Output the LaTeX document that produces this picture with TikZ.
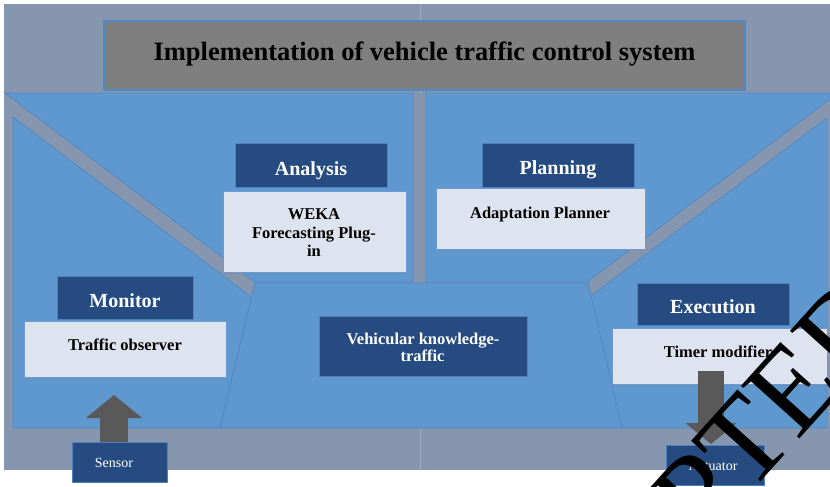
\documentclass[tikz,border=0pt]{standalone}
\usepackage{fontspec}
\setmainfont{Liberation Serif}
\usetikzlibrary{arrows.meta,shadows}

\definecolor{framegray}{HTML}{8796AF}
\definecolor{panelblue}{HTML}{5F98CE}
\definecolor{paneledge}{HTML}{4F88C6}
\definecolor{navy}{HTML}{264B80}
\definecolor{navyedge}{HTML}{4F81BD}
\definecolor{paleblue}{HTML}{DDE4EF}
\definecolor{paleedge}{HTML}{6E9BD4}
\definecolor{titlegray}{HTML}{7F7F7F}
\definecolor{arrowgray}{HTML}{595959}

\begin{document}
\begin{tikzpicture}[x=1pt,y=-1pt,
  panel/.style={fill=panelblue,draw=paneledge,line width=0.8pt},
  navybox/.style={fill=navy,draw=navyedge,line width=1pt,inner sep=0pt},
  palebox/.style={fill=paleblue,draw=paleedge,line width=1pt,inner sep=0pt,
    drop shadow={shadow xshift=0.5pt,shadow yshift=-2pt,opacity=0.25}},
  titlebox/.style={fill=titlegray,draw=paneledge,line width=1.2pt,inner sep=0pt},
  headtext/.style={anchor=base,inner sep=0pt,text=white,font=\fontsize{20}{24}\selectfont\bfseries},
  bodytext/.style={anchor=base,inner sep=0pt,text=black,font=\fontsize{16.5}{19}\selectfont\bfseries},
  knowtext/.style={anchor=base,inner sep=0pt,text=white,font=\fontsize{16.5}{19}\selectfont\bfseries},
  smalltext/.style={anchor=base,inner sep=0pt,text=white,font=\fontsize{14}{16}\selectfont},
  blockarrow/.style={draw=arrowgray,line width=#1,line cap=butt},
]
\useasboundingbox (0,0) rectangle (830,487);
\fill[white] (0,0) rectangle (830,487);

% outer frame (two halves)
\fill[framegray] (4,4) rectangle (830,470);
\draw[framegray!80!white,line width=0.6pt] (420,4) -- (420,93);
\draw[framegray!80!white,line width=0.6pt] (420,428) -- (420,470);

% title
\node[titlebox,minimum width=641pt,minimum height=69pt] (title) at (424.5,55.5) {};
\node[anchor=base,inner sep=0pt,font=\fontsize{26.5}{30}\selectfont\bfseries] (titletext) at (424.5,60)
  {Implementation of vehicle traffic control system};

% the five panels of the loop
\draw[panel] (5,93) -- (413,93) -- (413,282) -- (255,282) -- cycle;
\draw[panel] (426,93) -- (838,93) -- (587,282) -- (426,282) -- cycle;
\draw[panel] (13,117) -- (251.5,297.3) -- (220,428) -- (13,428) -- cycle;
\draw[panel] (827,118) -- (827,428) -- (622,428) -- (591,296) -- cycle;
\draw[panel] (255,283) -- (588,283) -- (622,428) -- (220,428) -- cycle;

% boxes
\node[navybox,minimum width=152pt,minimum height=44pt] (analysis) at (311,165) {};
\node[navybox,minimum width=152pt,minimum height=44pt] (planning) at (558,165) {};
\node[navybox,minimum width=136pt,minimum height=43pt] (monitor) at (125,297.5) {};
\node[navybox,minimum width=152pt,minimum height=42pt] (execution) at (713,304) {};
\node[navybox,minimum width=208pt,minimum height=60pt] (knowledge) at (423,346) {};

\node[palebox,minimum width=183pt,minimum height=81pt] (weka) at (314.5,231.5) {};
\node[palebox,minimum width=209pt,minimum height=61pt] (planner) at (540.5,218.5) {};
\node[palebox,minimum width=202pt,minimum height=56pt] (observer) at (125,349) {};
\node[palebox,minimum width=215pt,minimum height=56pt] (timer) at (719.5,356) {};

% sensor and actuator with their block arrows
\coordinate (sensortip) at (114,395);
\coordinate (actuatortip) at (711,444);
\node[navybox,minimum width=95pt,minimum height=40pt] (sensor) at (119.5,462) {};
\node[navybox,minimum width=98pt,minimum height=40pt] (actuator) at (715,465) {};
\draw[blockarrow=28pt,-{Triangle[width=55pt,length=23pt]}]
  (sensortip |- sensor.north) -- (sensortip);
\draw[blockarrow=26pt,-{Triangle[width=50pt,length=21pt]}]
  ([yshift=14pt]actuatortip |- timer.south) -- (actuatortip);

% labels
\node[headtext] (analysislabel) at (311,175) {Analysis};
\node[headtext] (planninglabel) at (558,174) {Planning};
\node[headtext] (monitorlabel) at (125,307) {Monitor};
\node[headtext] (executionlabel) at (713,313) {Execution};

\node[bodytext] (weka1) at (314,219) {WEKA};
\node[bodytext] (weka2) at (314,238) {Forecasting Plug-};
\node[bodytext] (weka3) at (314,256.7) {in};
\node[bodytext] (plannerlabel) at (540,218) {Adaptation Planner};
\node[bodytext] (observerlabel) at (125,350) {Traffic observer};
\node[bodytext] (timerlabel) at (718,357) {Timer modifier};
\node[knowtext] (know1) at (423,344) {Vehicular knowledge-};
\node[knowtext] (know2) at (422.5,361.7) {traffic};

\node[smalltext] (sensorlabel) at (114,467) {Sensor};
\node[smalltext] (actuatorlabel) at (713,470) {Actuator};

% stamp across the lower right corner
\begin{scope}
  \clip (0,0) rectangle (830,487);
  \node[anchor=base east,rotate=48,inner sep=0pt,text=black,
        font=\fontsize{120}{125}\selectfont] (stamp) at (905,322) {ACCEPTED};
\end{scope}
\end{tikzpicture}
\end{document}
